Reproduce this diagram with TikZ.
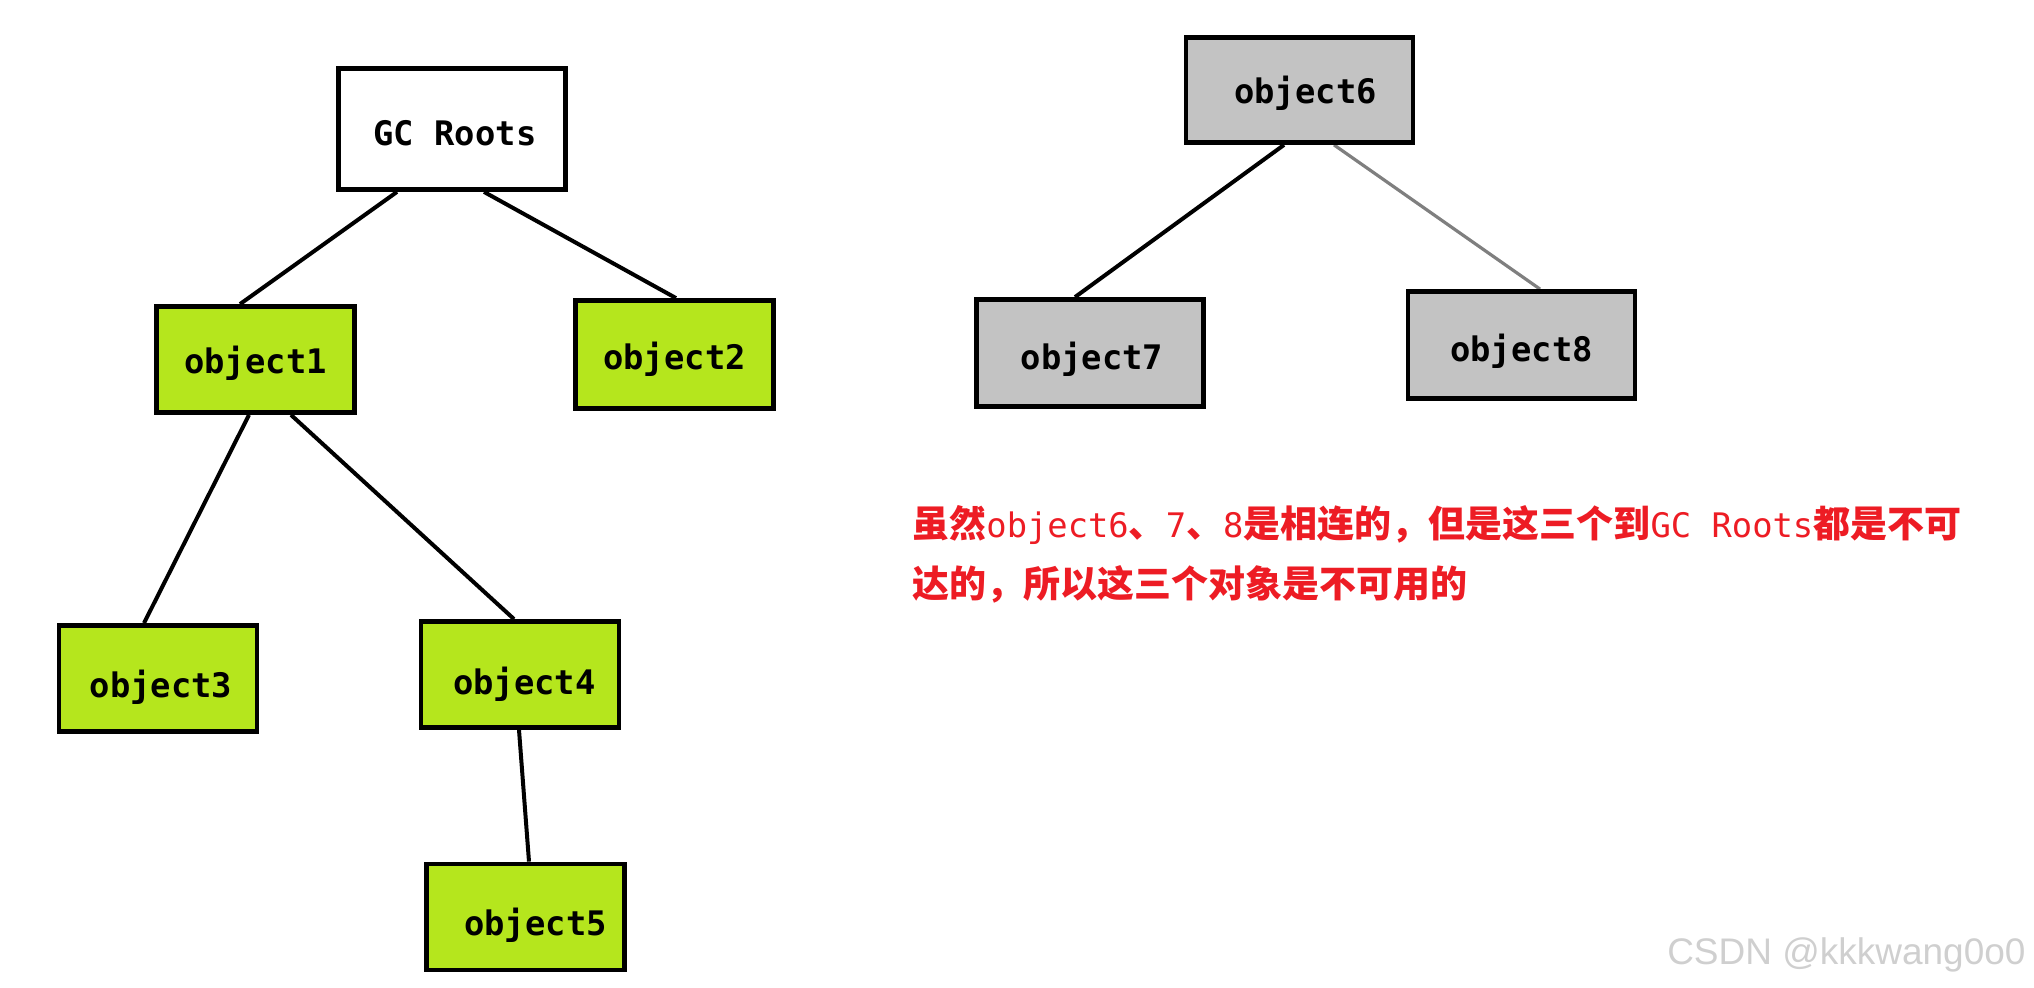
\documentclass[tikz,border=0pt]{standalone}
\usepackage{fontspec}
\newfontfamily\cjk{Noto Sans CJK SC}
\newfontfamily\monof{DejaVu Sans Mono}
\newfontfamily\wmfont{Liberation Sans}
\usetikzlibrary{calc,backgrounds}
\definecolor{objgreen}{HTML}{B5E61D}
\definecolor{objgray}{HTML}{C3C3C3}
\definecolor{notered}{HTML}{ED1C24}
\definecolor{linkgray}{HTML}{7F7F7F}
\definecolor{wmgray}{HTML}{CFCFCF}
\newcommand{\zh}[1]{{\cjk\bfseries\fontsize{18.5}{22}\selectfont #1}}
\newcommand{\lt}[1]{{\monof\fontsize{16.9}{22}\selectfont #1}}
\begin{document}
\begin{tikzpicture}[x=0.5pt,y=-0.5pt,
  box/.style={draw=black,line width=2.4pt,inner sep=0pt},
  lbl/.style={inner sep=0pt,font=\monof\bfseries\fontsize{16.9}{20}\selectfont},
  live/.style={box,fill=objgreen,minimum width=99pt,minimum height=53pt},
  dead/.style={box,fill=objgray,minimum width=113.5pt,minimum height=53.5pt},
  rootbox/.style={box,fill=white,minimum width=113.5pt,minimum height=60.5pt},
  link/.style={draw=black,line width=2pt},
  weaklink/.style={draw=linkgray,line width=1.6pt},
  note/.style={anchor=west,inner sep=0pt,text=notered},
  watermark/.style={anchor=east,inner sep=0pt,text=wmgray,font=\wmfont\fontsize{18.5}{22}\selectfont}
]
\useasboundingbox (0,0) rectangle (2034,988);

\node[rootbox,label={[lbl,xshift=1.5pt,yshift=-2pt]center:GC Roots}] (gc) at (452,129) {};
\node[live,label={[lbl,yshift=-2pt]center:object1}] (o1) at (255.5,359.5) {};
\node[live,minimum height=54pt,label={[lbl,yshift=-2.5pt]center:object2}] (o2) at (674.5,354.5) {};
\node[live,label={[lbl,xshift=1.5pt,yshift=-4.5pt]center:object3}] (o3) at (158,678.5) {};
\node[live,label={[lbl,xshift=2.2pt,yshift=-5pt]center:object4}] (o4) at (520,674.5) {};
\node[live,label={[lbl,xshift=5pt,yshift=-4pt]center:object5}] (o5) at (525.5,917) {};
\node[dead,minimum height=52.5pt,label={[lbl,xshift=3pt,yshift=-1.5pt]center:object6}] (o6) at (1299.5,90) {};
\node[dead,label={[lbl,xshift=1pt,yshift=-3pt]center:object7}] (o7) at (1090,353) {};
\node[dead,label={[lbl,yshift=-3pt]center:object8}] (o8) at (1521.5,345) {};

\begin{scope}[on background layer]
\draw[link] ($(gc.south)+(-55,0)$) -- ($(o1.north)+(-15.5,0)$);
\draw[link] ($(gc.south)+(32,0)$) -- ($(o2.north)+(1.5,0)$);
\draw[link] ($(o1.south)+(-6.5,0)$) -- ($(o3.north)+(-14,0)$);
\draw[link] ($(o1.south)+(35.5,0)$) -- ($(o4.north)+(-6,0)$);
\draw[link] ($(o4.south)+(-1,0)$) -- ($(o5.north)+(3.5,0)$);
\draw[link] ($(o6.south)+(-15.5,0)$) -- ($(o7.north)+(-15,0)$);
\draw[weaklink] ($(o6.south)+(34.5,0)$) -- ($(o8.north)+(18.5,0)$);
\end{scope}

\node[note] (n1) at (912,525) {\zh{虽然}\lt{object6}\zh{、}\lt{7}\zh{、}\lt{8}\zh{是相连的，但是这三个到}\lt{GC Roots}\zh{都是不可}};
\node[note] (n2) at (912,584) {\zh{达的，所以这三个对象是不可用的}};

\node[watermark] (wm) at (2026,955) {CSDN @kkkwang0o0};
\end{tikzpicture}
\end{document}
